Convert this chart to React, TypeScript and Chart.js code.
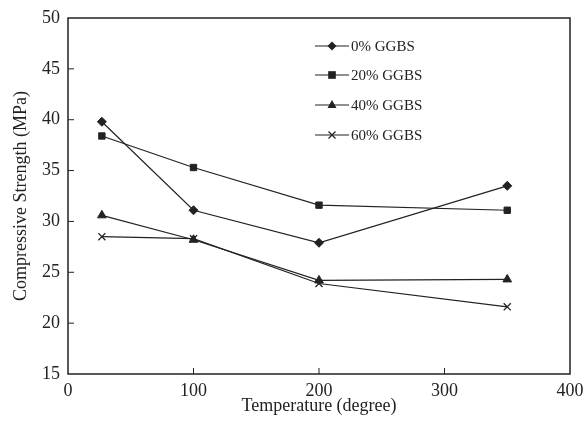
import React, { useEffect, useRef } from "react";
import { Chart, registerables } from "chart.js";

Chart.register(...registerables);

const temperatures = [27, 100, 200, 350];
const ggbs0 = [39.8, 31.1, 27.9, 33.5];
const ggbs20 = [38.4, 35.3, 31.6, 31.1];
const ggbs40 = [30.6, 28.2, 24.2, 24.3];
const ggbs60 = [28.5, 28.3, 23.9, 21.6];
const seriesLabels = ["0% GGBS", "20% GGBS", "40% GGBS", "60% GGBS"];
const xTicks = [0, 100, 200, 300, 400];
const yTicks = [15, 20, 25, 30, 35, 40, 45, 50];

const FONT = "'Liberation Serif', 'DejaVu Serif', serif";
const INK = "#222";

const framePlugin = {
  id: "frameAndTicks",
  afterDraw(chart: any) {
    const { ctx, chartArea, scales } = chart;
    const { left, right, top, bottom } = chartArea;
    ctx.save();
    ctx.strokeStyle = INK;
    ctx.lineWidth = 1.5;
    ctx.strokeRect(left, top, right - left, bottom - top);
    ctx.lineWidth = 1;
    const tl = 6;
    yTicks.forEach((v) => {
      if (v === yTicks[0] || v === yTicks[yTicks.length - 1]) return;
      const py = scales.y.getPixelForValue(v);
      ctx.beginPath();
      ctx.moveTo(left, py);
      ctx.lineTo(left + tl, py);
      ctx.stroke();
    });
    xTicks.forEach((v) => {
      if (v === xTicks[0] || v === xTicks[xTicks.length - 1]) return;
      const px = scales.x.getPixelForValue(v);
      ctx.beginPath();
      ctx.moveTo(px, bottom);
      ctx.lineTo(px, bottom - tl);
      ctx.stroke();
    });
    // legend
    const lx0 = left + 247;
    const lx1 = left + 281;
    const rowY = [46, 75, 105, 135];
    chart.data.datasets.forEach((ds: any, i: number) => {
      const y = top + rowY[i] - 18;
      ctx.strokeStyle = INK;
      ctx.lineWidth = 1.2;
      ctx.beginPath();
      ctx.moveTo(lx0, y);
      ctx.lineTo(lx1, y);
      ctx.stroke();
      const mx = (lx0 + lx1) / 2;
      ctx.fillStyle = INK;
      ctx.strokeStyle = INK;
      ctx.lineWidth = 1.2;
      const style = ds.pointStyle;
      const r = ds.pointRadius;
      if (style === "rectRot") {
        ctx.beginPath();
        ctx.moveTo(mx, y - r);
        ctx.lineTo(mx + r, y);
        ctx.lineTo(mx, y + r);
        ctx.lineTo(mx - r, y);
        ctx.closePath();
        ctx.fill();
      } else if (style === "rect") {
        const s = r * 0.85;
        ctx.fillRect(mx - s, y - s, 2 * s, 2 * s);
      } else if (style === "triangle") {
        ctx.beginPath();
        ctx.moveTo(mx, y - r);
        ctx.lineTo(mx + r * 0.9, y + r * 0.6);
        ctx.lineTo(mx - r * 0.9, y + r * 0.6);
        ctx.closePath();
        ctx.fill();
      } else {
        const s = r * 0.7;
        ctx.beginPath();
        ctx.moveTo(mx - s, y - s);
        ctx.lineTo(mx + s, y + s);
        ctx.moveTo(mx + s, y - s);
        ctx.lineTo(mx - s, y + s);
        ctx.stroke();
      }
      ctx.fillStyle = INK;
      ctx.font = `15px ${FONT}`;
      ctx.textBaseline = "middle";
      ctx.textAlign = "left";
      ctx.fillText(ds.label, lx1 + 2, y + 1);
    });
    ctx.restore();
  },
};

export default function App() {
  const ref = useRef<HTMLCanvasElement | null>(null);
  useEffect(() => {
    if (!ref.current) return;
    const mk = (label: string, vals: number[], style: string, radius: number) => ({
      label,
      data: temperatures.map((t, i) => ({ x: t, y: vals[i] })),
      borderColor: INK,
      backgroundColor: INK,
      borderWidth: 1.2,
      pointStyle: style,
      pointRadius: radius,
      pointBorderWidth: style === "crossRot" ? 1.3 : 1,
      pointBackgroundColor: INK,
      pointBorderColor: INK,
      showLine: true,
      tension: 0,
    });
    const chart = new Chart(ref.current, {
      type: "scatter",
      data: {
        datasets: [
          mk(seriesLabels[0], ggbs0, "rectRot", 4.5),
          mk(seriesLabels[1], ggbs20, "rect", 4.5),
          mk(seriesLabels[2], ggbs40, "triangle", 5),
          mk(seriesLabels[3], ggbs60, "crossRot", 5),
        ],
      },
      options: {
        animation: false,
        responsive: false,
        layout: { padding: { left: 0, right: 15, top: 18, bottom: 0 } },
        plugins: { legend: { display: false }, tooltip: { enabled: false } },
        scales: {
          x: {
            type: "linear",
            min: 0,
            max: 400,
            afterBuildTicks: (s: any) => {
              s.ticks = xTicks.map((v) => ({ value: v }));
            },
            afterFit: (s: any) => {
              s.height = 50;
              s.paddingRight = 0;
              s.paddingLeft = 0;
            },
            grid: { display: false, drawTicks: false },
            border: { display: false },
            ticks: { color: INK, font: { family: FONT, size: 18 }, padding: 6 },
            title: {
              display: true,
              text: "Temperature (degree)",
              color: INK,
              font: { family: FONT, size: 18 },
              padding: { top: 0, bottom: 7 },
            },
          },
          y: {
            type: "linear",
            min: 15,
            max: 50,
            afterBuildTicks: (s: any) => {
              s.ticks = yTicks.map((v) => ({ value: v }));
            },
            afterFit: (s: any) => {
              s.width = 68;
              s.paddingTop = 0;
              s.paddingBottom = 0;
            },
            grid: { display: false, drawTicks: false },
            border: { display: false },
            ticks: { color: INK, font: { family: FONT, size: 18 }, padding: 8 },
            title: {
              display: true,
              text: "Compressive Strength (MPa)",
              color: INK,
              font: { family: FONT, size: 18 },
              padding: { top: 10, bottom: 0 },
            },
          },
        },
      },
      plugins: [framePlugin],
    } as any);
    return () => chart.destroy();
  }, []);
  return (
    <div style={{ position: "absolute", left: 0, top: 0, width: 585, height: 424, background: "#fff" }}>
      <canvas ref={ref} width={585} height={424} style={{ width: 585, height: 424 }} />
    </div>
  );
}
